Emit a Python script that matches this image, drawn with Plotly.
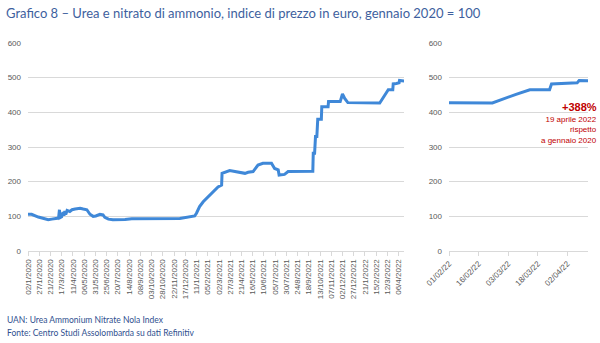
import pandas as pd
import plotly.graph_objects as go

# ---- data: UAN price index, gennaio 2020 = 100 ----
dates = [
    "2020-01-02", "2020-01-10", "2020-01-25", "2020-02-16", "2020-02-24", "2020-03-06",
    "2020-03-10", "2020-03-12", "2020-03-13", "2020-03-17", "2020-03-20", "2020-03-22",
    "2020-03-24", "2020-03-26", "2020-03-29", "2020-04-04", "2020-04-09", "2020-04-16",
    "2020-04-27", "2020-05-04", "2020-05-12", "2020-05-19", "2020-05-26", "2020-06-01",
    "2020-06-10", "2020-06-17", "2020-06-21", "2020-06-29", "2020-07-09", "2020-08-05",
    "2020-08-20", "2020-12-05", "2020-12-16", "2021-01-04", "2021-01-07", "2021-01-11",
    "2021-01-18", "2021-01-26", "2021-02-06", "2021-02-13", "2021-02-21", "2021-02-28",
    "2021-03-08", "2021-03-09", "2021-03-26", "2021-04-10", "2021-04-29", "2021-05-06",
    "2021-05-17", "2021-05-28", "2021-06-08", "2021-06-27", "2021-07-04", "2021-07-12",
    "2021-07-14", "2021-07-26", "2021-08-03", "2021-09-27", "2021-09-28", "2021-10-01",
    "2021-10-03", "2021-10-06", "2021-10-08", "2021-10-16", "2021-10-17", "2021-10-31",
    "2021-11-01", "2021-11-27", "2021-12-02", "2021-12-07", "2021-12-14", "2022-02-23",
    "2022-03-01", "2022-03-07", "2022-03-14", "2022-03-24", "2022-03-25", "2022-04-01",
    "2022-04-07", "2022-04-08", "2022-04-12", "2022-04-19",
]
values = [
    106, 106, 98, 90, 92, 94,
    95, 119, 96, 99, 112, 102,
    115, 105, 117, 114, 119, 121,
    123, 121, 119, 106, 100, 101,
    106, 104, 97, 92, 90, 91,
    93, 94, 97, 100, 101, 109,
    128, 142, 157, 164, 176, 185,
    190, 224, 232, 229, 224, 227,
    229, 248, 253, 253, 238, 234,
    219, 221, 229, 230, 282, 282,
    330, 330, 380, 380, 416, 416,
    431, 431, 453, 440, 428, 427,
    440, 452, 465, 465, 482, 483,
    485, 492, 491, 490,
]

left_tick_labels = [
    "02/1/2020", "27/1/2020", "21/2/2020", "17/3/2020", "11/4/2020", "06/5/2020",
    "31/5/2020", "25/6/2020", "20/7/2020", "14/8/2020", "08/9/2020", "03/10/2020",
    "28/10/2020", "22/11/2020", "17/12/2020", "11/1/2021", "05/2/2021", "02/3/2021",
    "27/3/2021", "21/4/2021", "16/5/2021", "10/6/2021", "05/7/2021", "30/7/2021",
    "24/8/2021", "18/9/2021", "13/10/2021", "07/11/2021", "02/12/2021", "27/12/2021",
    "21/1/2022", "15/2/2022", "12/3/2022", "06/4/2022",
]
right_tick_labels = ["01/02/22", "16/02/22", "03/03/22", "18/03/22", "02/04/22"]
y_ticks = [0, 100, 200, 300, 400, 500, 600]

left_tick_vals = [pd.to_datetime(s, format="%d/%m/%Y") for s in left_tick_labels]
right_tick_vals = [pd.to_datetime(s, format="%d/%m/%y") for s in right_tick_labels]

LINE = "#3f88d8"
GRID = "#d9d9d9"
TICKF = dict(family="Liberation Sans, Arial", size=8, color="#595959")
W, H = 600, 343

fig = go.Figure()
fig.add_trace(go.Scatter(x=dates, y=values, mode="lines", line=dict(color=LINE, width=3),
                         xaxis="x", yaxis="y", showlegend=False))
fig.add_trace(go.Scatter(x=dates, y=values, mode="lines", line=dict(color=LINE, width=3),
                         xaxis="x2", yaxis="y2", showlegend=False))

ydom = [(H - 251) / H, (H - 43) / H]

fig.update_layout(
    width=W, height=H, margin=dict(l=0, r=0, t=0, b=0, autoexpand=False),
    paper_bgcolor="white", plot_bgcolor="white",
    xaxis=dict(domain=[28 / W, 404 / W], type="date", automargin=False,
               range=["2020-01-02", "2022-04-18"],
               tickvals=left_tick_vals, ticktext=left_tick_labels, tickangle=-90,
               tickfont=TICKF, showgrid=False, showline=True, linecolor=GRID,
               ticks="outside", ticklen=4, tickcolor=GRID, zeroline=False),
    yaxis=dict(domain=ydom, range=[0, 600], tickvals=y_ticks, tickfont=TICKF, automargin=False,
               showgrid=True, gridcolor=GRID, gridwidth=1, zeroline=False,
               showline=False, ticklabelstandoff=6),
    xaxis2=dict(domain=[449 / W, 588 / W], type="date", automargin=False,
                range=["2022-02-01", "2022-04-12 12:00"],
                tickvals=right_tick_vals, ticktext=right_tick_labels, tickangle=-45,
                tickfont=TICKF, showgrid=False, showline=True, linecolor=GRID,
                ticks="outside", ticklen=4, tickcolor=GRID, zeroline=False, anchor="y2"),
    yaxis2=dict(domain=ydom, range=[0, 600], tickvals=y_ticks, tickfont=TICKF, automargin=False,
                showgrid=True, gridcolor=GRID, gridwidth=1, zeroline=False,
                showline=False, anchor="x2", ticklabelstandoff=6),
)

TXT = "#3e5f9e"
fig.add_annotation(text="Grafico 8 – Urea e nitrato di ammonio, indice di prezzo in euro, gennaio 2020 = 100",
                   xref="paper", yref="paper", x=4 / W, y=1 - 13 / H, xanchor="left", yanchor="middle",
                   showarrow=False, font=dict(family="Lato", size=13, color=TXT))
fig.add_annotation(text="UAN: Urea Ammonium Nitrate Nola Index",
                   xref="paper", yref="paper", x=5 / W, y=1 - 320 / H, xanchor="left", yanchor="middle",
                   showarrow=False, font=dict(family="Lato", size=8.5, color="#2f4f8f"))
fig.add_annotation(text="Fonte: Centro Studi Assolombarda su dati Refinitiv",
                   xref="paper", yref="paper", x=5 / W, y=1 - 333 / H, xanchor="left", yanchor="middle",
                   showarrow=False, font=dict(family="Lato", size=8.5, color="#2f4f8f"))

RED = "#c00000"
fig.add_annotation(text="<b>+388%</b>", xref="paper", yref="paper", x=599 / W, y=1 - 107 / H,
                   xanchor="right", yanchor="middle", showarrow=False,
                   font=dict(family="Liberation Sans, Arial", size=11, color=RED))
fig.add_annotation(text="19 aprile 2022<br>rispetto<br>a gennaio 2020", xref="paper", yref="paper",
                   x=599 / W, y=1 - 113 / H, xanchor="right", yanchor="top", align="right",
                   showarrow=False, font=dict(family="Liberation Sans, Arial", size=8, color=RED))

fig.write_html("out.html")
